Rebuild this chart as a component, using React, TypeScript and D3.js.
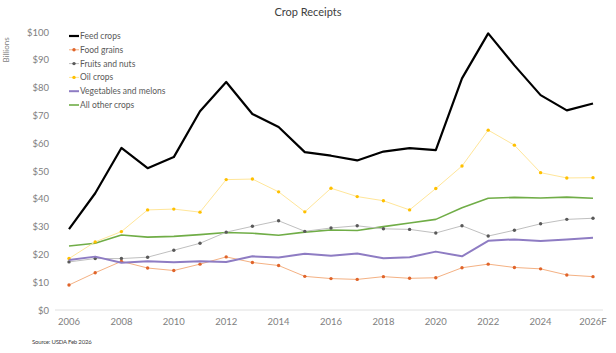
import React from 'react';
import * as d3 from 'd3';

const years = ['2006','2007','2008','2009','2010','2011','2012','2013','2014','2015','2016','2017','2018','2019','2020','2021','2022','2023','2024','2025','2026F'];

const feedCrops = [29.1, 42, 58.3, 51, 55, 71.5, 82, 70.5, 65.8, 56.8, 55.5, 53.8, 57, 58.2, 57.5, 83.3, 99.5, 88, 77.3, 71.8, 74.3];
const foodGrains = [9, 13.4, 17.5, 15.1, 14.2, 16.5, 19.1, 17.1, 16, 12.1, 11.3, 11, 12, 11.4, 11.6, 15.2, 16.5, 15.3, 14.8, 12.6, 12];
const fruitsNuts = [17.3, 18.5, 18.5, 19, 21.5, 24, 28, 30.1, 32.1, 28.3, 29.5, 30.3, 29.2, 29, 27.7, 30.3, 26.6, 28.7, 31, 32.6, 33];
const oilCrops = [18.5, 24.5, 28.2, 36, 36.3, 35.2, 46.9, 47.1, 42.5, 35.3, 43.8, 40.8, 39.3, 36, 43.7, 51.8, 64.7, 59.3, 49.4, 47.5, 47.6];
const vegMelons = [18, 19.2, 17, 17.5, 17.2, 17.5, 17.3, 19.3, 18.9, 20.2, 19.5, 20.3, 18.6, 19, 21, 19.3, 24.9, 25.4, 24.8, 25.4, 26];
const allOther = [23, 24, 27, 26.2, 26.5, 27.1, 27.9, 27.6, 26.9, 28, 28.8, 28.6, 30, 31.3, 32.6, 36.8, 40.2, 40.5, 40.3, 40.6, 40.2];

const yTicks = [0, 10, 20, 30, 40, 50, 60, 70, 80, 90, 100];
const xTickLabels = ['2006','2008','2010','2012','2014','2016','2018','2020','2022','2024','2026F'];

type Series = { name: string; values: number[]; line: string; width: number; marker?: string };

const series: Series[] = [
  { name: 'Feed crops', values: feedCrops, line: '#000000', width: 2.2 },
  { name: 'Food grains', values: foodGrains, line: '#F4B183', width: 1, marker: '#E0642A' },
  { name: 'Fruits and nuts', values: fruitsNuts, line: '#BFBFBF', width: 1, marker: '#595959' },
  { name: 'Oil crops', values: oilCrops, line: '#FFE699', width: 1, marker: '#FFC000' },
  { name: 'Vegetables and melons', values: vegMelons, line: '#8E7CC3', width: 2 },
  { name: 'All other crops', values: allOther, line: '#70AD47', width: 1.6 },
];

const W = 616;
const H = 353;
const font = 'Lato, "Open Sans", sans-serif';

export default function App() {
  const x = d3.scalePoint<string>().domain(years).range([69, 593]);
  const y = d3.scaleLinear().domain([0, 100]).range([310, 32]);

  const line = d3.line<number>()
    .x((_, i) => x(years[i]) as number)
    .y(d => y(d));

  // lower series first, feed crops on top
  const drawOrder = [5, 3, 2, 1, 4, 0];

  return (
    <svg width={W} height={H} style={{ position: 'absolute', left: 0, top: 0, background: '#fff' }}>
      <text x={308} y={16} textAnchor="middle" fontFamily={font} fontSize={11} fill="#404040">Crop Receipts</text>
      <text transform="translate(9,50) rotate(-90)" textAnchor="middle" fontFamily={font} fontSize={8} fill="#7F7F7F">Billions</text>

      <line x1={55} x2={603} y1={y(0)} y2={y(0)} stroke="#E0E0E0" strokeWidth={1} />

      {yTicks.map(t => (
        <text key={t} x={49} y={y(t) + 3.5} textAnchor="end" fontFamily={font} fontSize={9.5} fill="#808080">${t}</text>
      ))}
      {xTickLabels.map(t => (
        <text key={t} x={x(t) as number} y={325} textAnchor="middle" fontFamily={font} fontSize={9.5} fill="#808080">{t}</text>
      ))}

      {drawOrder.map(idx => {
        const s = series[idx];
        return (
          <g key={s.name}>
            <path d={line(s.values) || ''} fill="none" stroke={s.line} strokeWidth={s.width} strokeLinejoin="round" />
            {s.marker && s.values.map((v, i) => (
              <circle key={i} cx={x(years[i]) as number} cy={y(v)} r={1.7} fill={s.marker} />
            ))}
          </g>
        );
      })}

      {series.map((s, i) => {
        const ly = 36 + i * 13.8;
        return (
          <g key={s.name}>
            <line x1={69} x2={79} y1={ly} y2={ly} stroke={s.line} strokeWidth={s.marker ? 1 : s.width} />
            {s.marker && <circle cx={74} cy={ly} r={1.7} fill={s.marker} />}
            <text x={80} y={ly + 3} fontFamily={font} fontSize={8.5} fill="#595959">{s.name}</text>
          </g>
        );
      })}

      <text x={32} y={344} fontFamily={font} fontSize={6} fill="#404040" letterSpacing={-0.2}>Source: USDA Feb 2026</text>
    </svg>
  );
}
